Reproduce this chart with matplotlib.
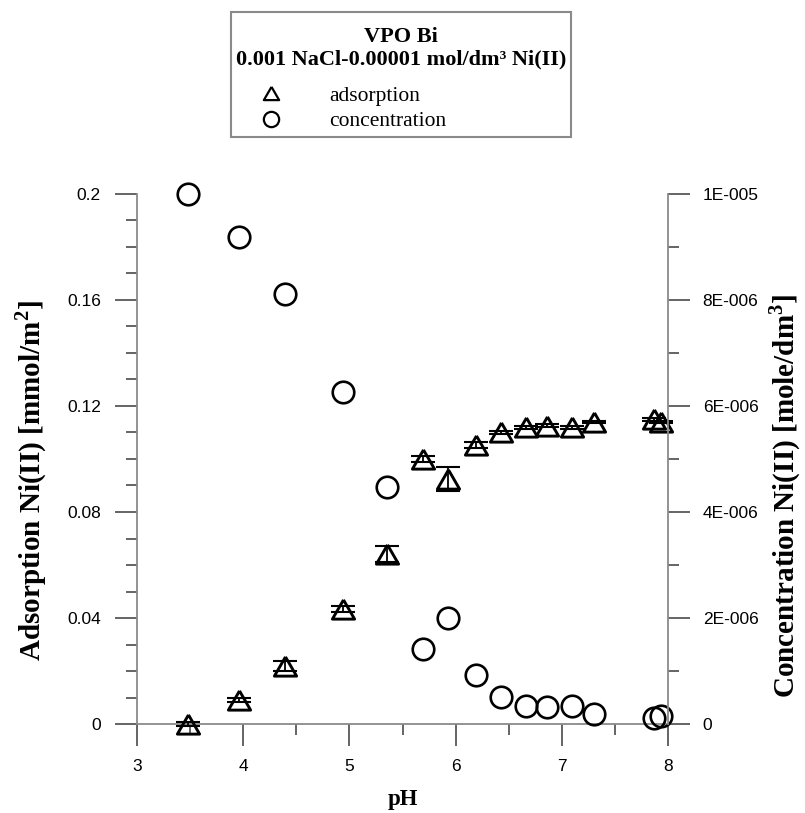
import matplotlib
matplotlib.use('Agg')
import matplotlib.pyplot as plt
from matplotlib.lines import Line2D
from matplotlib.patches import Rectangle
from matplotlib.ticker import MultipleLocator, FuncFormatter

plt.rcParams['font.family'] = ['Liberation Sans', 'DejaVu Sans']
plt.rcParams['mathtext.fontset'] = 'custom'
plt.rcParams['mathtext.rm'] = 'Liberation Serif:bold'
plt.rcParams['mathtext.bf'] = 'Liberation Serif:bold'

# data
ph = [3.48, 3.96, 4.39, 4.94, 5.35, 5.69, 5.93, 6.19, 6.43, 6.66, 6.86, 7.10, 7.30, 7.87, 7.93]
adsorption = [0.0, 0.009, 0.022, 0.0434, 0.0642, 0.1, 0.0925, 0.1053, 0.110, 0.112,
              0.1126, 0.112, 0.114, 0.115, 0.114]
ads_err = [0.0008, 0.0008, 0.0019, 0.0012, 0.003, 0.0012, 0.0045, 0.001, 0.0005, 0.0005,
           0.0005, 0.0005, 0.0005, 0.0005, 0.0005]
concentration = [1.0e-5, 9.19e-6, 8.11e-6, 6.26e-6, 4.47e-6, 1.42e-6, 2.0e-6, 0.92e-6,
                 0.51e-6, 0.34e-6, 0.32e-6, 0.34e-6, 0.19e-6, 0.11e-6, 0.15e-6]

title_lines = ['VPO Bi', '0.001 NaCl-0.00001 mol/dm³ Ni(II)']
series_labels = ['adsorption', 'concentration']

SPINE = '#8a8a8a'
TICK = '#3a3a3a'
serif_bold = dict(family='Liberation Serif', weight='bold')

# triangle a bit flatter than matplotlib's '^'
tri = [(0, 0.866), (-1, -0.866), (1, -0.866), (0, 0.866)]


def sci_fmt(v, pos):
    if v == 0:
        return '0'
    m, e = f'{v:.0E}'.split('E')
    return f'{m}E-{abs(int(e)):03d}'


fig = plt.figure(figsize=(8.05, 8.13), dpi=100)
ax = fig.add_axes([137 / 805, 1 - 724 / 813, 531 / 805, 530 / 813])
ax2 = ax.twinx()

ax.errorbar(ph, adsorption, yerr=ads_err, fmt='none', ecolor='black',
            elinewidth=1.3, capsize=8.5, capthick=1.5, zorder=3, clip_on=False)
ax.plot(ph, adsorption, linestyle='none', marker=tri, ms=16, mfc='none',
        mec='black', mew=2.1, zorder=4, clip_on=False)
ax2.plot(ph, concentration, linestyle='none', marker='o', ms=15.5, mfc='none',
         mec='black', mew=1.9, clip_on=False)

ax.set_xlim(3, 8)
ax.set_ylim(0, 0.2)
ax2.set_ylim(0, 1e-5)

ax.xaxis.set_major_locator(MultipleLocator(1))
ax.xaxis.set_minor_locator(MultipleLocator(0.5))
ax.yaxis.set_major_locator(MultipleLocator(0.04))
ax.yaxis.set_minor_locator(MultipleLocator(0.01))
ax.yaxis.set_major_formatter(FuncFormatter(lambda v, p: f'{v:g}'))
ax2.yaxis.set_major_locator(MultipleLocator(2e-6))
ax2.yaxis.set_minor_locator(MultipleLocator(1e-6))
ax2.yaxis.set_major_formatter(FuncFormatter(sci_fmt))

for a in (ax, ax2):
    a.spines['top'].set_visible(False)
    for s in a.spines.values():
        s.set_color(SPINE)
        s.set_linewidth(1.3)
    a.tick_params(which='major', direction='out', length=16, width=1.1,
                  color=TICK, labelsize=12.5, labelcolor='black')
    a.tick_params(which='minor', direction='out', length=8, width=1.1, color=TICK)
ax.spines['right'].set_visible(False)
ax2.spines['left'].set_visible(False)
ax2.spines['bottom'].set_visible(False)
ax.tick_params(axis='y', which='major', pad=10)
ax.tick_params(axis='x', which='major', pad=9)
ax2.tick_params(axis='y', which='major', pad=9)

ax.set_xlabel('pH', fontsize=16.5, **serif_bold)
ax.xaxis.set_label_coords(0.5, -0.143)
ax.xaxis.label.set_va('center')

ax.set_ylabel(r'Adsorption Ni(II) [mmol/m$^2$]', fontsize=21, **serif_bold)
ax.yaxis.set_label_coords(-0.2, 0.46)
ax.yaxis.label.set(va='center', ha='center', rotation_mode='default')
ax2.set_ylabel(r'Concentration Ni(II) [mole/dm$^3$]', fontsize=21, **serif_bold)
ax2.yaxis.set_label_coords(1.22, 0.43)
ax2.yaxis.label.set(va='center', ha='center', rotation_mode='default', rotation=90)

# legend box
fig.patches.append(Rectangle((231 / 805, 1 - 137 / 813), 340 / 805, 125 / 813,
                             transform=fig.transFigure, fill=False,
                             edgecolor=SPINE, linewidth=1.5))
fig.text(401 / 805, 1 - 37 / 813, title_lines[0], ha='center', va='center',
         fontsize=16, **serif_bold)
fig.text(401 / 805, 1 - 59 / 813, title_lines[1], ha='center', va='center',
         fontsize=16, **serif_bold)
handles = [Line2D([], [], linestyle='none', marker=tri, ms=11, mfc='none', mec='black', mew=1.6),
           Line2D([], [], linestyle='none', marker='o', ms=11, mfc='none', mec='black', mew=1.6)]
fig.legend(handles, series_labels, loc='upper left',
           bbox_to_anchor=(247 / 805, 1 - 75 / 813), frameon=False,
           prop=dict(family='Liberation Serif', size=15.5),
           handlelength=1.2, handletextpad=2.1, labelspacing=0.25, borderpad=0)

fig.savefig('out.png', dpi=100)
